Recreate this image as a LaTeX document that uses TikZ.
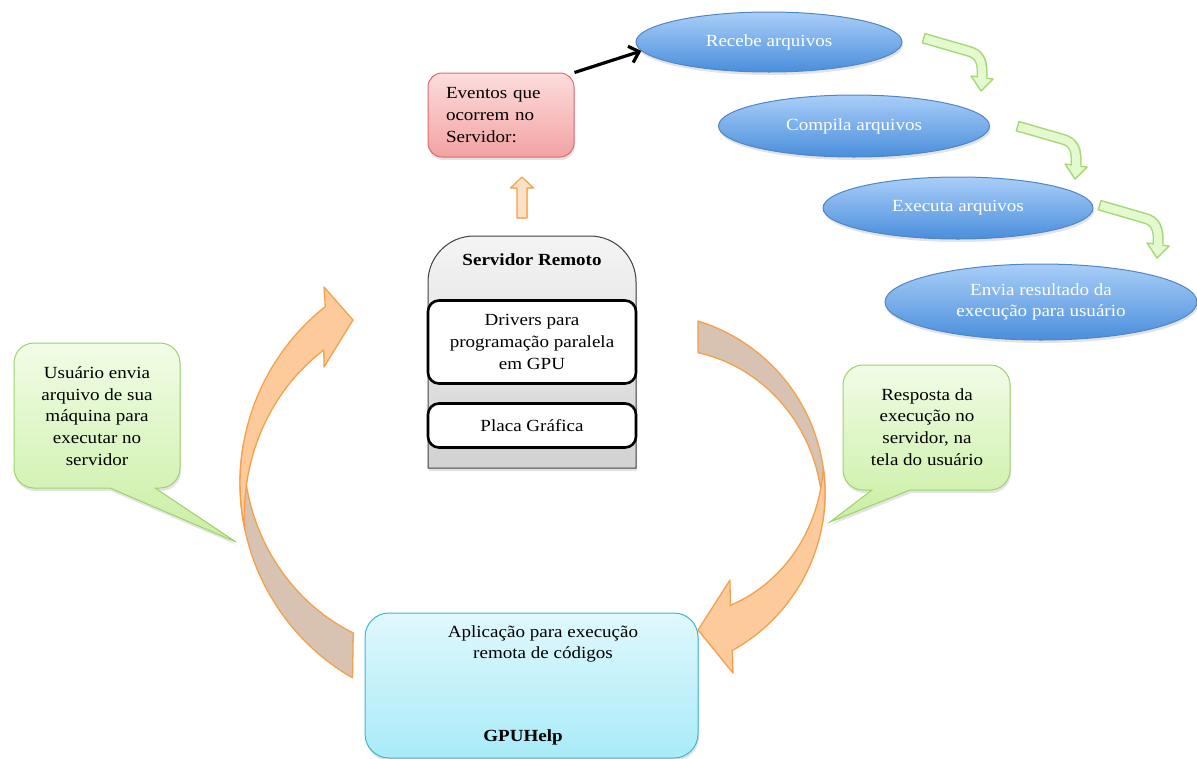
\documentclass[tikz,border=0pt]{standalone}
\usepackage{fontspec}
\setmainfont{Liberation Serif}[FakeStretch=1.12]
\usetikzlibrary{arrows.meta,shadows,shapes.geometric}

\definecolor{ellTop}{HTML}{A9CEF8}
\definecolor{ellBot}{HTML}{4A8EDC}
\definecolor{ellLine}{HTML}{4F86C6}
\definecolor{redTop}{HTML}{FCDDDD}
\definecolor{redBot}{HTML}{F3A2A2}
\definecolor{redLine}{HTML}{E06A6A}
\definecolor{grnTop}{HTML}{F1FCE6}
\definecolor{grnBot}{HTML}{C9EFA2}
\definecolor{grnLine}{HTML}{9CD36C}
\definecolor{bentFill}{HTML}{E4F9CE}
\definecolor{bentLine}{HTML}{A4D977}
\definecolor{cyTop}{HTML}{E0F8FD}
\definecolor{cyBot}{HTML}{A8EBF8}
\definecolor{cyLine}{HTML}{3DB7CF}
\definecolor{orLine}{HTML}{F5A04A}
\definecolor{orFill}{HTML}{FDCB9B}
\definecolor{orLight}{HTML}{FEE3C8}
\definecolor{brFill}{HTML}{D8C3B3}
\definecolor{grTop}{HTML}{F4F4F4}
\definecolor{grBot}{HTML}{D2D2D2}

\tikzset{
  txt/.style={font=\fontsize{17}{21.7}\selectfont, inner sep=0pt, align=center},
  soft shadow/.style={drop shadow={opacity=0.22, shadow xshift=1pt, shadow yshift=-3pt}},
  stage/.style={ellipse, draw=ellLine, line width=1pt, top color=ellTop,
    bottom color=ellBot, text=white, txt, soft shadow},
  evbox/.style={rectangle, rounded corners=14, draw=redLine, line width=1pt,
    top color=redTop, bottom color=redBot, txt, soft shadow},
  layerbox/.style={rectangle, rounded corners=11, draw=black, line width=2.6pt,
    fill=white, txt},
  appbox/.style={rectangle, rounded corners=24, draw=cyLine, line width=1pt,
    top color=cyTop, bottom color=cyBot, soft shadow},
  callbox/.style={draw=grnLine, line width=1pt, top color=grnTop,
    bottom color=grnBot, soft shadow},
  backface/.style={fill=brFill, draw=orLine, line width=1.3pt, line join=round},
  frontface/.style={fill=orFill, draw=orLine, line width=1.3pt, line join=round},
  bent/.pic={
    \draw[line width=11pt, bentLine] (0,0) -- (45,13)
      .. controls (57,16) and (60,24) .. (59,39);
    \filldraw[fill=bentFill, draw=bentLine, line width=1.4pt, line join=round]
      (48,38) -- (70,41) -- (58,53) -- cycle;
    \draw[line width=8pt, bentFill, shorten <=1.5pt] (0,0) -- (45,13)
      .. controls (57,16) and (60,24) .. (59,41.5);
  }
}

\begin{document}
\begin{tikzpicture}[x=1pt,y=-1pt]
\useasboundingbox (0,0) rectangle (1197,758);

% ---- processing steps on the server ----
\node[stage, minimum width=266, minimum height=60] (recebe) at (769,42) {Recebe arquivos};
\node[stage, minimum width=271, minimum height=62] (compila) at (854,126) {Compila arquivos};
\node[stage, minimum width=270, minimum height=62] (executa) at (958,208) {Executa arquivos};
\node[stage, minimum width=312, minimum height=76] (envia) at (1041,302)
  {Envia resultado da\\execução para usuário};

\pic (g1) at (923,38) {bent};
\pic (g2) at (1017,126) {bent};
\pic (g3) at (1099,205) {bent};

% ---- events box ----
\node[evbox, minimum width=146, minimum height=84, text width=110pt, align=left]
  (eventos) at (501,115) {Eventos que\\ocorrem no\\Servidor:};
\draw[line width=3.2pt, -{Straight Barb[length=9pt, width=17pt, line width=3.2pt]}]
  (eventos.north east) -- (recebe.184);

% small arrow up from the server
\filldraw[top color=orLight, bottom color=orFill!60!white, draw=orLine, line width=1.2pt,
  line join=round]
  (517,218) -- (517,188) -- (510.5,188) -- (522,177) -- (533.5,188) -- (527,188) -- (527,218) -- cycle;

% ---- remote server ----
\path[top color=grTop, bottom color=grBot, draw=black!75, line width=1pt, soft shadow]
  (428,468) -- (428,282) arc[start angle=180, end angle=270, radius=46]
  -- (590,236) arc[start angle=270, end angle=360, radius=46] -- (636,468) -- cycle;
\node[txt, font=\fontsize{17}{21.7}\selectfont\bfseries] (servidor) at (532,260) {Servidor Remoto};
\node[layerbox, minimum width=208, minimum height=83] (drivers) at (532,342)
  {Drivers para\\programação paralela\\em GPU};
\node[layerbox, minimum width=208, minimum height=44] (placa) at (532,425.5) {Placa Gráfica};

% ---- client application ----
\node[appbox, minimum width=333, minimum height=145] (app) at (531.5,685.5) {};
\node[txt] (apptxt) at (543,644) {Aplicação para execução\\remota de códigos};
\node[txt, font=\fontsize{17}{21.7}\selectfont\bfseries] (gpuhelp) at (523,737) {GPUHelp};

% ---- curved arrow: client to server ----
\path[backface]
  (120:225) ++(465,483) coordinate (lt0)
  (lt0) arc[start angle=120, end angle=190, radius=225]
  -- plot[domain=190:126.7, samples=40, variable=\t]
     ({465+(187+38*(\t-126.7)/63.3)*cos(\t)}, {483+(187+38*(\t-126.7)/63.3)*sin(\t)})
  -- cycle;
\path[frontface]
  (325.3,306.6) arc[start angle=231.6, end angle=168, radius=225]
  -- plot[domain=168:223.3, samples=40, variable=\t]
     ({465+(225-31*(\t-168)/55.3)*cos(\t)}, {483+(225-31*(\t-168)/55.3)*sin(\t)})
  -- (324,367) -- (353,320) -- (324,287) -- cycle;

% ---- curved arrow: server to client ----
\path[backface]
  (697.9,321) arc[start angle=-72.9, end angle=10, radius=180]
  -- plot[domain=10:-69.3, samples=40, variable=\t]
     ({645+(150+30*(\t+69.3)/79.3)*cos(\t)}, {493+(150+30*(\t+69.3)/79.3)*sin(\t)})
  -- cycle;
\path[frontface]
  (823.3,468) arc[start angle=-8, end angle=61, radius=180]
  -- (733,673) -- (698,630) -- (730,580)
  -- plot[domain=52.8:-8, samples=40, variable=\t]
     ({645+(141+39*(52.8-\t)/60.8)*cos(\t)}, {493+(141+39*(52.8-\t)/60.8)*sin(\t)})
  -- cycle;

% ---- callouts ----
\path[callbox]
  (34,343) -- (160,343) arc[start angle=270, end angle=360, radius=20]
  -- (180,468) arc[start angle=0, end angle=90, radius=20]
  -- (155,488) -- (236,542) -- (110,488)
  -- (34,488) arc[start angle=90, end angle=180, radius=20]
  -- (14,363) arc[start angle=180, end angle=270, radius=20] -- cycle;
\node[txt] (envio) at (97,416)
  {Usuário envia\\arquivo de sua\\máquina para\\executar no\\servidor};

\path[callbox]
  (863,365) -- (990,365) arc[start angle=270, end angle=360, radius=20]
  -- (1010,470) arc[start angle=0, end angle=90, radius=20]
  -- (910,490) -- (830,522) -- (872,490)
  -- (863,490) arc[start angle=90, end angle=180, radius=20]
  -- (843,385) arc[start angle=180, end angle=270, radius=20] -- cycle;
\node[txt] (resposta) at (927,427)
  {Resposta da\\execução no\\servidor, na\\tela do usuário};

\end{tikzpicture}
\end{document}
